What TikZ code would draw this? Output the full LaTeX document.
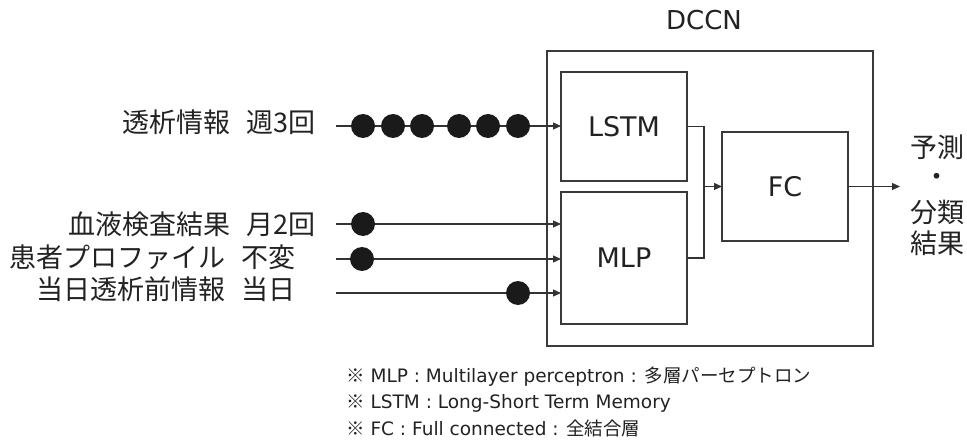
\documentclass[tikz,border=0pt]{standalone}
\usepackage{fontspec}
\setmainfont{DejaVu Sans}
\newfontfamily\jp{Noto Sans CJK JP}
\usetikzlibrary{arrows.meta}
\definecolor{boxc}{HTML}{3A3A3A}
\definecolor{linec}{HTML}{333333}
\definecolor{dotc}{HTML}{1A1A1A}
\definecolor{txt}{HTML}{222222}
\begin{document}
\begin{tikzpicture}[x=1pt,y=-1pt,
  box/.style={draw=boxc, line width=1.2pt, fill=white, inner sep=0pt, outer sep=0pt, text=txt,
    font=\fontsize{27}{32}\selectfont},
  link/.style={draw=linec, line width=1.2pt},
  arr/.style={link, -{Triangle[length=8pt,width=7pt]}},
  dot/.style={circle, fill=dotc, minimum size=24pt, inner sep=0pt},
  lbl/.style={text=txt, font=\jp\fontsize{27}{30}\selectfont, anchor=east, inner sep=0pt},
  outlbl/.style={text=txt, font=\jp\fontsize{27}{30}\selectfont, inner sep=0pt},
  note/.style={text=txt, font=\fontsize{18.5}{22}\selectfont, anchor=west, inner sep=0pt},
]
\useasboundingbox (0,0) rectangle (967,446);

% network blocks
\node[box, minimum width=326pt, minimum height=295pt] (dccn) at (710,198.5) {};
\node[text=txt, font=\fontsize{26}{30}\selectfont] (dccnlbl) at (704,20) {DCCN};
\node[box, minimum width=126pt, minimum height=109pt] (lstm) at (624,126.5) {LSTM};
\node[box, minimum width=126pt, minimum height=132pt] (mlp) at (624,258) {MLP};
\node[box, minimum width=126pt, minimum height=109pt] (fc) at (785,186.5) {FC};

% input start points
\coordinate (in1) at (336,126);
\coordinate (in2) at (336,224);
\coordinate (in3) at (336,259);
\coordinate (in4) at (336,293);

% input labels
\node[lbl] (l1) at (316,122) {透析情報\hspace{0.6em}週3回};
\node[lbl] (l2) at (316,224) {血液検査結果\hspace{0.6em}月2回};
\node[lbl] (l3) at (296,257) {患者プロファイル\hspace{0.6em}不変};
\node[lbl] (l4) at (296,289) {当日透析前情報\hspace{0.6em}当日};

% input arrows
\draw[arr] (in1) -- (in1 -| lstm.west);
\draw[arr] (in2) -- (in2 -| mlp.west);
\draw[arr] (in3) -- (in3 -| mlp.west);
\draw[arr] (in4) -- (in4 -| mlp.west);

% samples along each input
\foreach \x [count=\i] in {363,393,422,459,488,518}
  \node[dot] (s1\i) at (\x,126) {};
\node[dot] (s2) at (363,224) {};
\node[dot] (s3) at (362,259) {};
\node[dot] (s4) at (518,293) {};

% merge into FC
\coordinate (j) at (704,186.5);
\draw[link] (lstm.east) -- (lstm.east -| j) -- (mlp.east -| j) -- (mlp.east);
\draw[arr] (j) -- (fc.west);
\coordinate (out) at (900,186.5);
\draw[arr] (fc.east) -- (out);

% output label
\node[outlbl] (o1) at (937,147) {予測};
\node[outlbl] (o2) at (937,180) {・};
\node[outlbl] (o3) at (937,212) {分類};
\node[outlbl] (o4) at (937,243) {結果};

% notes
\node[note] (n1) at (346,377) {{\jp ※} MLP : Multilayer perceptron : {\jp 多層パーセプトロン}};
\node[note] (n2) at (346,403) {{\jp ※} LSTM : Long-Short Term Memory};
\node[note] (n3) at (346,428) {{\jp ※} FC : Full connected : {\jp 全結合層}};
\end{tikzpicture}
\end{document}
